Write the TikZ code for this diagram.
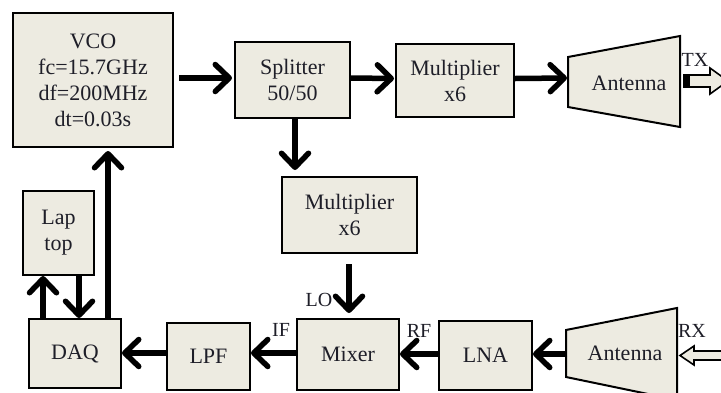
\documentclass[tikz,border=0pt]{standalone}
\usepackage{fontspec}
\setmainfont{Liberation Serif}
\usetikzlibrary{arrows.meta,calc}
\definecolor{boxfill}{HTML}{EDEBE1}
\definecolor{txt}{HTML}{1E1E28}
\begin{document}
\begin{tikzpicture}[x=1pt,y=-1pt,
  blk/.style={draw, line width=2pt, fill=boxfill, align=center, inner sep=0pt, text=txt,
              font=\fontsize{22}{26}\selectfont},
  plain/.style={align=center, inner sep=0pt, text=txt, font=\fontsize{22}{26}\selectfont},
  lbl/.style={font=\fontsize{20}{22}\selectfont, inner sep=0pt, text=txt},
  arr/.style={line width=5.5pt, -{Straight Barb[length=14pt,width=27pt,round]}},
  hollow/.style={draw, line width=1.6pt, fill=boxfill, line join=miter}]
\useasboundingbox (0,0) rectangle (721,392);
\fill[white] (0,0) rectangle (721,392);

% blocks
\node[blk, minimum width=160pt, minimum height=134pt] (vco) at (93,80)
  {\fontsize{22}{27}\selectfont VCO\\fc=15.7GHz\\df=200MHz\\dt=0.03s};
\node[blk, minimum width=115pt, minimum height=76pt] (spl) at (292.5,80) {Splitter\\50/50};
\node[blk, minimum width=118pt, minimum height=73pt] (m1) at (455,80.5) {Multiplier\\x6};
\node[blk, minimum width=135pt, minimum height=76pt] (m2) at (349.5,215) {Multiplier\\x6};
\node[blk, minimum width=102pt, minimum height=71pt] (mix) at (348,354.5) {Mixer};
\node[blk, minimum width=93pt, minimum height=69pt] (lna) at (485.5,355.5) {LNA};
\node[blk, minimum width=83pt, minimum height=67pt] (lpf) at (208.5,356.5) {LPF};
\node[blk, minimum width=92pt, minimum height=69pt] (daq) at (75,353.5) {DAQ};
\node[blk, minimum width=71pt, minimum height=84pt] (lap) at (58.5,233) {Lap\\top};

% antennas
\draw[line width=2pt, fill=boxfill] (568,57) -- (680,36) -- (680,127) -- (568,107) -- cycle;
\node[plain] (anttx) at (629,83) {Antenna};
\coordinate (txL) at (567,80);
\draw[line width=2pt, fill=boxfill] (566,330) -- (677,308) -- (677,400) -- (566,377) -- cycle;
\node[plain] (antrx) at (625,353) {Antenna};
\coordinate (rxL) at (567,354);

% hollow arrows
\draw[hollow] (684,75) -- (710,75) -- (710,68) -- (728,81) -- (710,94) -- (710,87) -- (684,87) -- cycle;
\fill[black] (684,74.2) rectangle (690,87.8);
\draw[hollow] (680,355.5) -- (694,346) -- (694,351) -- (730,351) -- (730,360) -- (694,360) -- (694,365) -- cycle;

% labels
\node[lbl] (tx) at (695,60) {TX};
\node[lbl] (rx) at (692,331) {RX};
\node[lbl] (lo) at (319,300) {LO};
\node[lbl] (rf) at (419,331) {RF};
\node[lbl] (if) at (281,330) {IF};

% connectors
\draw[arr] ($(vco.east)+(5,-2)$) -- ($(spl.west)+(-2,-2)$);
\draw[arr] ($(spl.east)+(0,-2)$) -- ($(m1.west)+(-1,-2)$);
\draw[arr] ($(m1.east)+(0,-2)$) -- ($(txL)+(0,-2)$);
\draw[arr] ($(spl.south)+(2.5,0)$) -- ($(spl.south|-m2.north)+(2.5,-6)$);
\draw[arr] ($(m2.south)+(-0.5,10)$) -- ($(m2.south|-mix.north)+(-0.5,-5)$);
\draw[arr] (rxL) -- (rxL-|lna.east);
\draw[arr] ($(lna.west)+(0,-1.5)$) -- ($(lna.west-|mix.east)+(0,-1.5)$);
\draw[arr] ($(mix.west)+(0,-1.5)$) -- ($(mix.west-|lpf.east)+(0,-1.5)$);
\draw[arr] ($(lpf.west)+(0,-3.5)$) -- ($(lpf.west-|daq.east)+(0,-3.5)$);
\draw[arr] ($(daq.north)+(-32,0)$) -- ($(daq.north|-lap.south)+(-32,0)$);
\draw[arr] ($(lap.south)+(20.5,0)$) -- ($(lap.south|-daq.north)+(20.5,0)$);
\draw[arr] ($(daq.north)+(33,0)$) -- ($(daq.north|-vco.south)+(33,3)$);
\end{tikzpicture}
\end{document}
